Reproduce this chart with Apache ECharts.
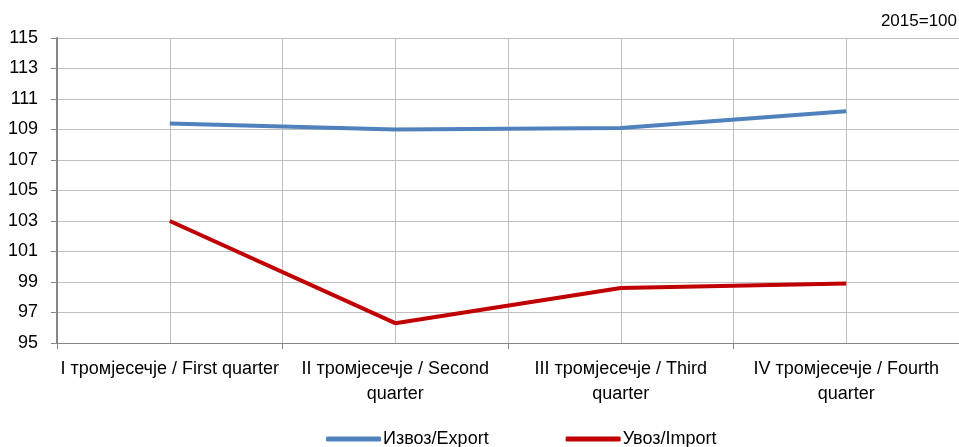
<!DOCTYPE html>
<html>
<head>
<meta charset="utf-8">
<script src="https://cdn.jsdelivr.net/npm/echarts@6/dist/echarts.min.js"></script>
<style>
  html, body { margin: 0; padding: 0; background: #fff; }
  #chart { width: 959px; height: 447px; }
</style>
</head>
<body>
<div id="chart"></div>
<script>
var quarters = ['I тромјесечје / First quarter', 'II тромјесечје / Second quarter', 'III тромјесечје / Third quarter', 'IV тромјесечје / Fourth quarter'];
var exportValues = [109.4, 109.0, 109.1, 110.2];
var importValues = [103.0, 96.3, 98.6, 98.9];
var seriesNames = ['Извоз/Export', 'Увоз/Import'];

var chart = echarts.init(document.getElementById('chart'));
var font = 'Liberation Sans, Arial, sans-serif';

var option = {
    animation: false,
    textStyle: { fontFamily: font },
    graphic: [{
        type: 'text',
        right: 2,
        top: 13,
        style: { text: '2015=100', font: '17px ' + font, fill: '#000' }
    }],
    legend: {
        left: 321,
        top: 425,
        itemGap: 77,
        itemWidth: 55,
        itemHeight: 5,
        icon: 'roundRect',
        textStyle: { fontSize: 18, color: '#000', fontFamily: font, padding: [0, 0, 0, -3] },
        data: seriesNames
    },
    grid: { left: 57, right: 0, top: 38, bottom: 104 },
    xAxis: [{
        type: 'category',
        data: quarters,
        boundaryGap: true,
        axisLine: { lineStyle: { color: '#868686', width: 1 } },
        axisTick: { show: true, length: 6, interval: 0, lineStyle: { color: '#868686' } },
        axisLabel: {
            interval: 0, margin: 14, fontSize: 18, color: '#000', lineHeight: 25,
            fontFamily: font,
            formatter: function (v) {
                // wrap the long labels before "quarter", like the original
                return v.length > 29 ? v.replace(/ quarter$/, '\nquarter') : v;
            }
        },
        splitLine: { show: false }
    }, {
        type: 'value',
        min: 0,
        max: 8,
        interval: 1,
        show: true,
        axisLine: { show: false },
        axisTick: { show: false },
        axisLabel: { show: false },
        splitLine: { show: true, lineStyle: { color: '#bfbfbf', width: 1 } }
    }],
    yAxis: {
        type: 'value',
        min: 95,
        max: 115,
        interval: 2,
        axisLine: { show: true, lineStyle: { color: '#868686', width: 2 } },
        axisTick: { show: true, length: 6, lineStyle: { color: '#868686' } },
        axisLabel: { fontSize: 18, color: '#000', margin: 19, fontFamily: font },
        splitLine: { show: true, lineStyle: { color: '#bfbfbf', width: 1 } }
    },
    series: [{
        name: seriesNames[0],
        type: 'line',
        xAxisIndex: 0,
        data: exportValues,
        symbol: 'none',
        color: '#4F81BD',
        lineStyle: { width: 4, color: '#4F81BD' }
    }, {
        name: seriesNames[1],
        type: 'line',
        xAxisIndex: 0,
        data: importValues,
        symbol: 'none',
        color: '#C00000',
        lineStyle: { width: 4, color: '#C00000' }
    }]
};

chart.setOption(option);
</script>
</body>
</html>
